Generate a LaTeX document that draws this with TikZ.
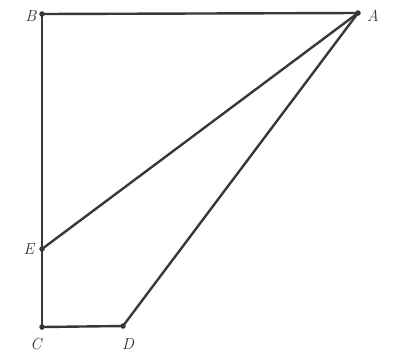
\documentclass[tikz,border=0pt]{standalone}
\begin{document}
\begin{tikzpicture}[x=1pt,y=-1pt,
  seg/.style={line width=2.4pt,draw=black!78},
  pt/.style={circle,fill=black!80,inner sep=0pt,minimum size=5.5pt},
  lab/.style={font=\fontsize{16}{16}\selectfont\itshape,text=black!80}]
\useasboundingbox (0,0) rectangle (393,354);
\node[pt] (A) at (358,13) {};
\node[pt] (B) at (42,14) {};
\node[pt] (E) at (42,249) {};
\node[pt] (C) at (42,327) {};
\node[pt] (D) at (123,326) {};
\draw[seg] (B.center) -- (A.center);
\draw[seg] (B.center) -- (C.center);
\draw[seg] (C.center) -- (D.center);
\draw[seg] (A.center) -- (E.center);
\draw[seg] (A.center) -- (D.center);
\node[lab] (lA) at (373,16) {A};
\node[lab] (lB) at (31,16) {B};
\node[lab] (lE) at (29,249) {E};
\node[lab] (lC) at (36,344) {C};
\node[lab] (lD) at (128,344) {D};
\end{tikzpicture}
\end{document}
